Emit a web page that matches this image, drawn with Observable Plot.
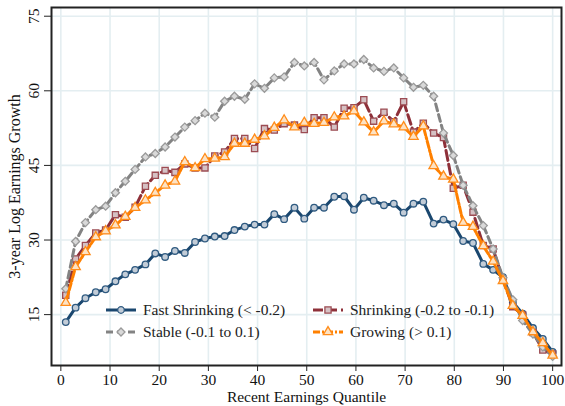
<!DOCTYPE html>
<html><head><meta charset="utf-8">
<script src="https://cdn.jsdelivr.net/npm/d3@7"></script>
<script src="https://cdn.jsdelivr.net/npm/@observablehq/plot@0.6"></script>
<style>
body{margin:0;background:#fff;}
#wrap{position:relative;width:565px;height:406px;overflow:hidden;font-family:"Liberation Serif","Times New Roman",serif;}
#legend{position:absolute;left:106px;top:300px;display:grid;grid-template-columns:207px 200px;row-gap:1.5px;font-size:15.5px;color:#222;}
.item{display:flex;align-items:center;height:20px;white-space:nowrap;}
.item svg{margin-right:7px;flex:none;}
</style></head><body><div id="wrap"><div id="chart"></div><div id="legend"></div></div>
<script>
const quantile = [1.0,3.0,5.0,7.1,9.1,11.1,13.1,15.1,17.2,19.2,21.2,23.2,25.2,27.3,29.3,31.3,33.3,35.3,37.4,39.4,41.4,43.4,45.4,47.5,49.5,51.5,53.5,55.6,57.6,59.6,61.6,63.6,65.7,67.7,69.7,71.7,73.7,75.8,77.8,79.8,81.8,83.8,85.9,87.9,89.9,91.9,93.9,96.0,98.0,100.0];
const fastShrinking = [13.5,16.4,18.3,19.5,20.1,21.7,23.1,24.0,25.1,27.3,26.6,27.8,27.4,29.6,30.3,30.7,30.8,32.0,32.7,33.1,33.1,35.2,34.2,36.5,34.3,36.5,36.5,38.7,38.8,36.1,38.5,37.9,37.0,37.3,35.5,37.3,37.7,33.3,34.1,33.2,29.8,29.4,25.2,24.0,22.5,17.5,15.2,12.3,10.1,7.5];
const shrinking = [18.9,26.2,28.9,31.4,32.0,35.1,34.6,36.6,40.8,43.0,44.0,43.6,45.3,44.5,44.5,46.9,47.7,50.4,50.4,48.4,52.4,52.1,53.4,53.1,52.2,54.6,54.6,52.7,56.5,56.6,58.2,53.9,55.7,53.8,57.8,51.7,53.5,51.5,50.6,40.4,41.0,35.6,28.9,28.2,22.0,16.6,14.9,11.4,7.9,7.1];
const stable = [20.2,29.7,33.5,36.1,36.8,39.5,41.8,44.2,46.7,47.4,48.7,50.7,52.7,54.0,55.5,54.7,57.9,58.9,58.3,61.4,60.5,62.6,62.8,65.7,65.0,65.7,62.2,64.0,65.4,65.4,66.3,64.6,63.9,64.6,62.6,60.7,61.1,58.9,51.5,47.0,41.0,36.9,32.9,28.2,22.4,18.0,13.8,11.1,8.5,6.6];
const growing = [17.4,24.6,27.6,30.6,31.8,33.0,34.7,36.5,38.0,39.5,41.0,41.8,45.7,44.5,46.3,46.4,46.7,49.4,49.4,50.2,50.9,52.6,54.1,52.7,53.6,53.4,53.6,54.7,54.9,55.9,53.7,51.7,53.9,53.3,52.7,50.8,52.9,44.9,42.8,42.2,33.5,32.7,28.8,25.7,21.8,16.8,14.8,11.5,9.3,6.8];
const xTicks = [0,10,20,30,40,50,60,70,80,90,100];
const yTicks = [15,30,45,60,75];
const xTitle = "Recent Earnings Quantile";
const yTitle = "3-year Log Earnings Growth";

const series = [
  {name:"Fast Shrinking (< -0.2)", values:fastShrinking, color:"#1a476f", mstroke:"#2f5a80", fill:"#c2ccd7", symbol:"circle", dash:null, r:3.3},
  {name:"Shrinking (-0.2 to -0.1)", values:shrinking, color:"#8e3039", mstroke:"#9c4c53", fill:"#d5c1c4", symbol:"square", dash:"10,4", r:3.5},
  {name:"Stable (-0.1 to 0.1)", values:stable, color:"#838383", mstroke:"#9a9a9a", fill:"#d9d9d9", symbol:"diamond2", dash:"7,4", r:3.6},
  {name:"Growing (> 0.1)", values:growing, color:"#ff8000", mstroke:"#ff8c1a", fill:"#fde2c3", symbol:"triangle", dash:"7,2,2,2", r:3.5}
];

const marks = [
  Plot.gridX(xTicks, {stroke:"#e4eef1", strokeOpacity:1, strokeWidth:1.6}),
  Plot.gridY(yTicks, {stroke:"#e4eef1", strokeOpacity:1, strokeWidth:1.6})
];
for (const s of series) {
  const rows = quantile.map((q, i) => ({q, v: s.values[i]}));
  marks.push(Plot.line(rows, {x:"q", y:"v", stroke:s.color, strokeWidth:3, strokeDasharray:s.dash, strokeLinejoin:"round"}));
  marks.push(Plot.dot(rows, {x:"q", y:"v", symbol:s.symbol, r:s.r, fill:s.fill, stroke:s.mstroke, strokeWidth:1.3}));
}
marks.push(
  Plot.axisX({ticks:xTicks, tickSize:6, tickPadding:2, fontSize:15.5, label:null, stroke:"#222"}),
  Plot.axisY({ticks:yTicks, tickSize:7, tickPadding:6, tickRotate:-90, fontSize:15.5, label:null, stroke:"#222"}),
  Plot.text([xTitle], {frameAnchor:"bottom", dy:31.5, lineAnchor:"middle", fontSize:15.5, fill:"#111"}),
  Plot.text([yTitle], {frameAnchor:"left", dx:-37, rotate:-90, textAnchor:"middle", lineAnchor:"middle", fontSize:16, fill:"#111"}),
  Plot.frame({stroke:"#222", strokeWidth:2})
);

const chart = Plot.plot({
  width:565, height:406,
  marginLeft:51, marginRight:4, marginTop:7, marginBottom:41,
  x:{domain:[-1.9,101.8]},
  y:{domain:[4.77,76.75]},
  style:{fontFamily:"'Liberation Serif','Times New Roman',serif", fontSize:"16px", background:"white", color:"#111"},
  marks
});
document.getElementById("chart").append(chart);

const legend = d3.select("#legend");
for (const s of series) {
  const item = legend.append("div").attr("class","item");
  const svg = item.append("svg").attr("width",30).attr("height",14);
  svg.append("line").attr("x1",0).attr("x2",30).attr("y1",7).attr("y2",7)
    .attr("stroke",s.color).attr("stroke-width",3).attr("stroke-dasharray",s.dash);
  const sym = {circle:d3.symbolCircle, square:d3.symbolSquare, diamond2:d3.symbolDiamond2, triangle:d3.symbolTriangle}[s.symbol];
  const path = d3.symbol(sym, Math.PI*s.r*s.r)();
  svg.append("path").attr("d", path).attr("transform","translate(15,7)")
    .attr("fill",s.fill).attr("stroke",s.mstroke).attr("stroke-width",1.3);
  item.append("span").text(s.name);
}
</script>
</body></html>
